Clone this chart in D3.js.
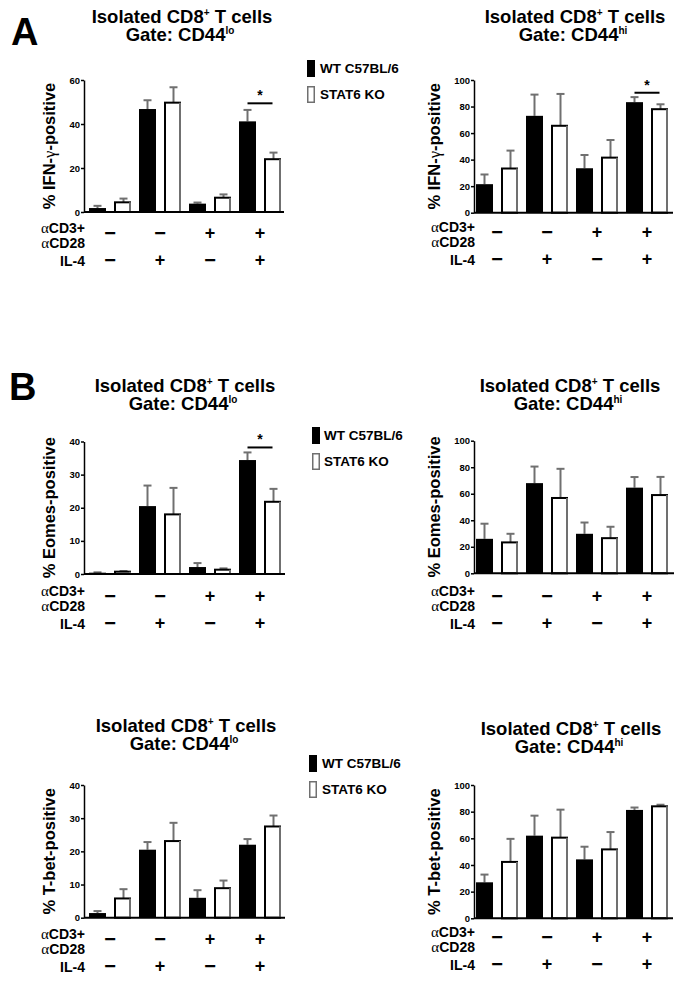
<!DOCTYPE html>
<html><head><meta charset="utf-8">
<script src="https://cdn.jsdelivr.net/npm/d3@7"></script>
<style>body{margin:0;background:#fff}</style>
</head><body>
<script>
// ---------- data ----------
const groups = ["g1", "g2", "g3", "g4"];
const seriesNames = ["WT C57BL/6", "STAT6 KO"];
const cd3Signs = ["\u2212", "\u2212", "+", "+"];
const il4Signs = ["\u2212", "+", "\u2212", "+"];

// IFN-γ, CD44lo
const ifngLoWT = [1.8, 46.8, 3.8, 41.2];
const ifngLoWTErr = [1.0, 4.0, 0.5, 5.2];
const ifngLoKO = [4.4, 49.7, 6.5, 24.0];
const ifngLoKOErr = [1.7, 7.0, 1.5, 3.0];
// IFN-γ, CD44hi
const ifngHiWT = [21.5, 73.0, 33.5, 83.3];
const ifngHiWTErr = [7.3, 16.0, 10.0, 3.8];
const ifngHiKO = [33.3, 65.5, 41.5, 78.0];
const ifngHiKOErr = [13.5, 24.0, 13.3, 3.7];
// Eomes, CD44lo
const eomesLoWT = [0.4, 20.5, 2.1, 34.4];
const eomesLoWTErr = [0.1, 6.2, 1.2, 2.3];
const eomesLoKO = [0.7, 18.0, 1.3, 21.8];
const eomesLoKOErr = [0.2, 8.0, 0.4, 3.9];
// Eomes, CD44hi
const eomesHiWT = [26.0, 68.0, 29.8, 64.6];
const eomesHiWTErr = [11.4, 12.5, 8.5, 8.0];
const eomesHiKO = [23.3, 56.8, 26.5, 59.0];
const eomesHiKOErr = [6.5, 22.0, 8.6, 13.7];
// T-bet, CD44lo
const tbetLoWT = [1.4, 20.5, 6.0, 22.0];
const tbetLoWTErr = [0.6, 2.3, 2.3, 1.7];
const tbetLoKO = [5.8, 23.1, 8.9, 27.5];
const tbetLoKOErr = [2.8, 5.5, 2.3, 3.3];
// T-bet, CD44hi
const tbetHiWT = [27.0, 62.0, 44.2, 81.3];
const tbetHiWTErr = [5.8, 15.0, 9.5, 1.8];
const tbetHiKO = [42.3, 60.5, 51.7, 84.0];
const tbetHiKOErr = [17.3, 21.0, 13.0, 1.2];

const ticksLo40 = [0, 10, 20, 30, 40];
const ticksLo60 = [0, 20, 40, 60];
const ticks100 = [0, 20, 40, 60, 80, 100];

// ---------- layout ----------
const panels = [
  {gate:"lo", ylab:["% IFN-", "\u03b3", "-positive"], wt:ifngLoWT, wtE:ifngLoWTErr, ko:ifngLoKO, koE:ifngLoKOErr,
   ymax:60, ticks:ticksLo60, ax:84, barStart:89, axEnd:284, y0:212, yT:80, tx:182, ty:23, base:234, ylx:55, sig:49.4},
  {gate:"hi", ylab:["% IFN-", "\u03b3", "-positive"], wt:ifngHiWT, wtE:ifngHiWTErr, ko:ifngHiKO, koE:ifngHiKOErr,
   ymax:100, ticks:ticks100, ax:474, barStart:476, axEnd:673, y0:212.7, yT:80, tx:575, ty:23, base:233, ylx:440, sig:90.4},
  {gate:"lo", ylab:["% Eomes-positive"], wt:eomesLoWT, wtE:eomesLoWTErr, ko:eomesLoKO, koE:eomesLoKOErr,
   ymax:40, ticks:ticksLo40, ax:84, barStart:89, axEnd:285, y0:574, yT:441.5, tx:185, ty:392, base:597, ylx:55, sig:38.2},
  {gate:"hi", ylab:["% Eomes-positive"], wt:eomesHiWT, wtE:eomesHiWTErr, ko:eomesHiKO, koE:eomesHiKOErr,
   ymax:100, ticks:ticks100, ax:474, barStart:476, axEnd:674, y0:573.3, yT:440.7, tx:570, ty:392, base:597, ylx:440, sig:null},
  {gate:"lo", ylab:["% T-bet-positive"], wt:tbetLoWT, wtE:tbetLoWTErr, ko:tbetLoKO, koE:tbetLoKOErr,
   ymax:40, ticks:ticksLo40, ax:84, barStart:89, axEnd:285, y0:917.7, yT:785, tx:186, ty:732, base:940, ylx:55, sig:null},
  {gate:"hi", ylab:["% T-bet-positive"], wt:tbetHiWT, wtE:tbetHiWTErr, ko:tbetHiKO, koE:tbetHiKOErr,
   ymax:100, ticks:ticks100, ax:474, barStart:476, axEnd:673, y0:918.3, yT:785, tx:571, ty:735, base:938, ylx:440, sig:null}
];
const legends = [
  {x:307, y:60, tx:320}, {x:312, y:427, tx:324}, {x:309, y:755, tx:322}
];
const letters = [{t:"A", x:11, y:45}, {t:"B", x:9, y:400}];

const FONT = "'Liberation Sans', Arial, sans-serif";
const GRAY = "#707070";

const svg = d3.select("body").append("svg").attr("width", 682).attr("height", 983)
  .style("font-family", FONT);

letters.forEach(l => svg.append("text").attr("x", l.x).attr("y", l.y).text(l.t)
  .attr("font-size", 38).attr("font-weight", "bold"));

panels.forEach(p => {
  const g = svg.append("g");
  // title
  const t1 = g.append("text").attr("x", p.tx).attr("y", p.ty).attr("text-anchor", "middle")
    .attr("font-size", 18.5).attr("font-weight", "bold");
  t1.append("tspan").text("Isolated CD8");
  t1.append("tspan").text("+").attr("font-size", 10).attr("baseline-shift", "7");
  t1.append("tspan").text(" T cells");
  const t2 = g.append("text").attr("x", p.tx - 2).attr("y", p.ty + 18).attr("text-anchor", "middle")
    .attr("font-size", 18.5).attr("font-weight", "bold");
  t2.append("tspan").text("Gate: CD44");
  t2.append("tspan").text(p.gate).attr("font-size", 10).attr("baseline-shift", "7");

  const keys = [];
  groups.forEach(gr => { keys.push(gr + "-wt"); keys.push(gr + "-ko"); });
  const x = d3.scaleBand().domain(keys).range([p.barStart - 4, p.barStart - 4 + 200])
    .paddingInner(0.32).paddingOuter(0.16);
  const y = d3.scaleLinear().domain([0, p.ymax]).range([p.y0, p.yT]);

  const data = [];
  groups.forEach((gr, i) => {
    data.push({k: gr + "-wt", v: p.wt[i], e: p.wtE[i], s: 0});
    data.push({k: gr + "-ko", v: p.ko[i], e: p.koE[i], s: 1});
  });

  // error bars
  data.forEach(d => {
    const cx = x(d.k) + x.bandwidth() / 2 + (d.s ? 1 : 0);
    g.append("line").attr("x1", cx).attr("x2", cx).attr("y1", y(d.v)).attr("y2", y(d.v + d.e))
      .attr("stroke", GRAY).attr("stroke-width", 2);
    g.append("line").attr("x1", cx - 4).attr("x2", cx + 4).attr("y1", y(d.v + d.e)).attr("y2", y(d.v + d.e))
      .attr("stroke", GRAY).attr("stroke-width", 2);
  });
  // bars
  data.forEach(d => {
    if (d.s === 0) {
      g.append("rect").attr("x", x(d.k)).attr("y", y(d.v)).attr("width", x.bandwidth())
        .attr("height", y(0) - y(d.v)).attr("fill", "#000");
    } else {
      g.append("rect").attr("x", x(d.k) + 1).attr("y", y(d.v)).attr("width", x.bandwidth() - 2)
        .attr("height", y(0) - y(d.v)).attr("fill", "#fff").attr("stroke", "#000").attr("stroke-width", 2);
      g.append("line").attr("x1", x(d.k) + x.bandwidth() - 1).attr("x2", x(d.k) + x.bandwidth() - 1)
        .attr("y1", y(d.v)).attr("y2", y(0)).attr("stroke", GRAY).attr("stroke-width", 2);
    }
  });

  // y axis
  const yAxis = d3.axisLeft(y).tickValues(p.ticks).tickSize(3).tickPadding(1).tickSizeOuter(0);
  const ya = g.append("g").attr("transform", `translate(${p.ax},0)`).call(yAxis);
  ya.select(".domain").attr("stroke-width", 1.5);
  ya.selectAll(".tick line").attr("stroke-width", 1.5);
  ya.selectAll(".tick text").attr("font-size", 9.5).attr("font-weight", "bold").attr("font-family", FONT);
  // x axis line
  g.append("line").attr("x1", p.ax).attr("x2", p.axEnd).attr("y1", p.y0).attr("y2", p.y0)
    .attr("stroke", "#000").attr("stroke-width", 2);

  // y label
  const yl = g.append("text").attr("transform", `translate(${p.ylx},${(p.y0 + p.yT) / 2}) rotate(-90)`)
    .attr("text-anchor", "middle").attr("font-size", 16.5).attr("font-weight", "bold");
  p.ylab.forEach((s, i) => {
    const ts = yl.append("tspan").text(s);
    if (s === "\u03b3") ts.attr("font-weight", "normal").attr("font-family", "'Liberation Serif', serif");
  });

  // significance
  if (p.sig !== null) {
    const xa = x("g4-wt") + x.bandwidth() / 2, xb = x("g4-ko") + x.bandwidth() / 2;
    g.append("line").attr("x1", xa).attr("x2", xb).attr("y1", y(p.sig)).attr("y2", y(p.sig))
      .attr("stroke", "#000").attr("stroke-width", 2);
    g.append("text").attr("x", (xa + xb) / 2).attr("y", y(p.sig) - 3).attr("text-anchor", "middle")
      .attr("font-size", 14).attr("font-weight", "bold").text("*");
  }

  // condition rows
  const rl = p.ax + 1;
  const r1 = g.append("text").attr("x", rl).attr("y", p.base - 1).attr("text-anchor", "end")
    .attr("font-size", 14).attr("font-weight", "bold");
  r1.append("tspan").text("\u03b1").attr("font-weight", "normal").attr("font-family", "'Liberation Serif', serif").attr("font-size", 15);
  r1.append("tspan").text("CD3+");
  const r2 = g.append("text").attr("x", rl).attr("y", p.base + 14).attr("text-anchor", "end")
    .attr("font-size", 14).attr("font-weight", "bold");
  r2.append("tspan").text("\u03b1").attr("font-weight", "normal").attr("font-family", "'Liberation Serif', serif").attr("font-size", 15);
  r2.append("tspan").text("CD28");
  g.append("text").attr("x", rl).attr("y", p.base + 32).attr("text-anchor", "end")
    .attr("font-size", 14).attr("font-weight", "bold").text("IL-4");

  groups.forEach((gr, i) => {
    const cx = (x(gr + "-wt") + x(gr + "-ko") + x.bandwidth()) / 2;
    [[cd3Signs[i], p.base - 1], [il4Signs[i], p.base + 26]].forEach(([s, yy]) => {
      g.append("text").attr("x", cx).attr("y", yy).attr("text-anchor", "middle")
        .attr("dominant-baseline", "central").attr("font-size", s === "+" ? 18 : 20)
        .attr("font-weight", "bold").text(s);
    });
  });
});

// legends
legends.forEach(l => {
  seriesNames.forEach((n, i) => {
    const yy = l.y + i * 26;
    svg.append("rect").attr("x", l.x + (i ? 0.75 : 0)).attr("y", yy + (i ? 0.75 : 0))
      .attr("width", i ? 6.5 : 8).attr("height", i ? 15.5 : 17)
      .attr("fill", i ? "#fff" : "#000").attr("stroke", i ? GRAY : "none").attr("stroke-width", 1.5);
    svg.append("text").attr("x", l.tx).attr("y", yy + 13).attr("font-size", 13.5)
      .attr("font-weight", "bold").text(n);
  });
});
</script>
</body></html>
